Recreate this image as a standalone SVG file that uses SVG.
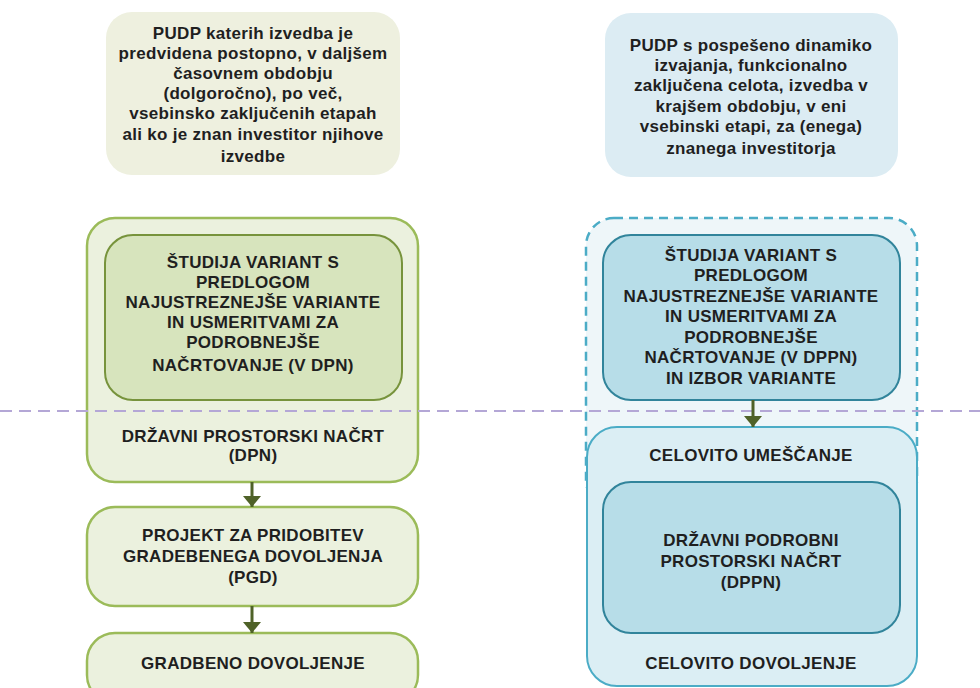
<svg xmlns="http://www.w3.org/2000/svg" width="980" height="688" viewBox="0 0 980 688">
<style>
text{font-family:"Liberation Sans",Arial,sans-serif;font-weight:bold;font-size:17px;letter-spacing:0.3px;fill:#1f1f1f;text-anchor:middle;dominant-baseline:central}
.gOut{fill:#ebf1de;stroke:#9bbb59;stroke-width:2.5}
.gIn{fill:#d7e4bd;stroke:#77933c;stroke-width:2}
.bOut{fill:#dbeef4;stroke:#4bacc6;stroke-width:2}
.bIn{fill:#b7dde8;stroke:#31849b;stroke-width:2}
.conn{stroke:#4f6228;stroke-width:3;fill:none}
</style>
<defs>
<marker id="ah" markerWidth="11" markerHeight="18" refX="11" refY="9" orient="auto" markerUnits="userSpaceOnUse">
<path d="M0,0 L11,9 L0,18 z" fill="#4f6228"/>
</marker>
</defs>
<rect width="980" height="688" fill="#ffffff"/>

<g id="top-left">
<rect x="106" y="12" width="294" height="163" rx="26" fill="#eef0df"/>
<text x="253" y="33">PUDP katerih izvedba je</text>
<text x="253" y="53">predvidena postopno, v daljšem</text>
<text x="253" y="73">časovnem obdobju</text>
<text x="253" y="93">(dolgoročno), po več,</text>
<text x="253" y="113">vsebinsko zaključenih etapah</text>
<text x="253" y="134">ali ko je znan investitor njihove</text>
<text x="253" y="156">izvedbe</text>
</g>

<g id="top-right">
<rect x="605" y="13" width="293" height="164" rx="26" fill="#dcecf3"/>
<text x="751" y="45">PUDP s pospešeno dinamiko</text>
<text x="751" y="65">izvajanja, funkcionalno</text>
<text x="751" y="85">zaključena celota, izvedba v</text>
<text x="751" y="106">krajšem obdobju, v eni</text>
<text x="751" y="126">vsebinski etapi, za (enega)</text>
<text x="751" y="148">znanega investitorja</text>
</g>

<g id="dpn">
<rect class="gOut" x="87" y="218" width="331" height="264" rx="28"/>
<text x="253" y="436">DRŽAVNI PROSTORSKI NAČRT</text>
<text x="253" y="455">(DPN)</text>
</g>

<g id="studija-left">
<rect class="gIn" x="105" y="235" width="297" height="165" rx="28"/>
<text x="253" y="262">ŠTUDIJA VARIANT S</text>
<text x="253" y="282">PREDLOGOM</text>
<text x="253" y="302">NAJUSTREZNEJŠE VARIANTE</text>
<text x="253" y="322">IN USMERITVAMI ZA</text>
<text x="253" y="342">PODROBNEJŠE</text>
<text x="253" y="365">NAČRTOVANJE (V DPN)</text>
</g>

<g id="pgd">
<rect class="gOut" x="87" y="507" width="331" height="99" rx="28"/>
<text x="253" y="535">PROJEKT ZA PRIDOBITEV</text>
<text x="253" y="556">GRADEBENEGA DOVOLJENJA</text>
<text x="253" y="577">(PGD)</text>
</g>

<g id="gradbeno">
<rect class="gOut" x="87" y="633" width="331" height="70" rx="28"/>
<text x="253" y="663">GRADBENO DOVOLJENJE</text>
</g>

<g id="dashed-group">
<rect x="586" y="218" width="331" height="290" rx="28" fill="#eef6f9" stroke="#4bacc6" stroke-width="2.5" stroke-dasharray="9,6"/>
</g>

<g id="studija-right">
<rect class="bIn" x="603" y="235" width="297" height="165" rx="28"/>
<text x="751" y="255">ŠTUDIJA VARIANT S</text>
<text x="751" y="275">PREDLOGOM</text>
<text x="751" y="296">NAJUSTREZNEJŠE VARIANTE</text>
<text x="751" y="316">IN USMERITVAMI ZA</text>
<text x="751" y="337">PODROBNEJŠE</text>
<text x="751" y="357">NAČRTOVANJE (V DPPN)</text>
<text x="751" y="378">IN IZBOR VARIANTE</text>
</g>

<g id="celovito">
<rect class="bOut" x="587" y="427" width="330" height="259" rx="30"/>
<text x="751" y="455">CELOVITO UMEŠČANJE</text>
<text x="751" y="663">CELOVITO DOVOLJENJE</text>
</g>

<g id="dppn">
<rect class="bIn" x="603" y="482" width="297" height="151" rx="28"/>
<text x="751" y="540">DRŽAVNI PODROBNI</text>
<text x="751" y="561">PROSTORSKI NAČRT</text>
<text x="751" y="582">(DPPN)</text>
</g>

<line id="divider" x1="0" y1="411" x2="980" y2="411" stroke="#b4a7d6" stroke-width="2" stroke-dasharray="12,7"/>

<g id="connectors">
<line class="conn" x1="252" y1="482" x2="252" y2="507" marker-end="url(#ah)"/>
<line class="conn" x1="252" y1="606" x2="252" y2="633" marker-end="url(#ah)"/>
<line class="conn" x1="753" y1="400" x2="753" y2="427" marker-end="url(#ah)"/>
</g>
</svg>
